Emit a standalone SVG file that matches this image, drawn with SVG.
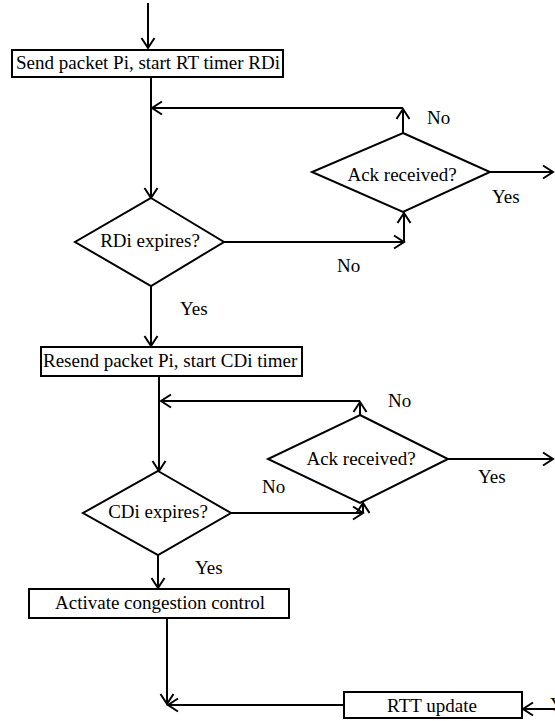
<svg xmlns="http://www.w3.org/2000/svg" width="555" height="721" viewBox="0 0 555 721" font-family="Liberation Serif, DejaVu Serif, serif">
<style>
text{font-size:19px;fill:#000}
.c{text-anchor:middle}
.s{fill:#fff;stroke:#000;stroke-width:2}
.l{fill:none;stroke:#000;stroke-width:2;marker-end:url(#a)}
</style>
<defs>
<marker id="a" markerUnits="userSpaceOnUse" markerWidth="14" markerHeight="16" viewBox="0 -8 14 16" refX="11" refY="0" orient="auto">
<path d="M1,-6.5 L11,0 L1,6.5" fill="none" stroke="#000" stroke-width="2"/>
</marker>
</defs>
<rect width="555" height="721" fill="#fff"/>
<g id="connectors">
<line class="l" x1="148" y1="3" x2="148" y2="48"/>
<line class="l" x1="151" y1="77" x2="151" y2="198"/>
<line class="l" x1="403" y1="133" x2="403" y2="109"/>
<line class="l" x1="403" y1="108" x2="152" y2="108"/>
<line class="l" x1="490" y1="172" x2="553" y2="172"/>
<line class="l" x1="224" y1="242" x2="404" y2="242"/>
<line class="l" x1="404" y1="242" x2="404" y2="213"/>
<line class="l" x1="151" y1="286" x2="151" y2="346"/>
<line class="l" x1="159" y1="376" x2="159" y2="471"/>
<line class="l" x1="360" y1="415" x2="360" y2="402"/>
<line class="l" x1="360" y1="401" x2="161" y2="401"/>
<line class="l" x1="448" y1="459" x2="553" y2="459"/>
<line class="l" x1="231" y1="513" x2="363" y2="513"/>
<line class="l" x1="363" y1="513" x2="363" y2="503"/>
<line class="l" x1="158" y1="555" x2="158" y2="588"/>
<line class="l" x1="167" y1="618" x2="167" y2="704"/>
<line class="l" x1="344" y1="705" x2="168" y2="705"/>
<line class="l" x1="556" y1="709" x2="523" y2="709"/>
</g>
<g id="send">
<rect class="s" x="12" y="50" width="271" height="27"/>
<text class="c" x="148" y="69">Send packet Pi, start RT timer RDi</text>
</g>
<g id="ack1">
<polygon class="s" points="403,133 490,172 403,212 312,172"/>
<text class="c" x="402" y="181">Ack received?</text>
</g>
<g id="rdi">
<polygon class="s" points="151,198 224,242 151,286 75,242"/>
<text class="c" x="150" y="247">RDi expires?</text>
</g>
<g id="resend">
<rect class="s" x="41" y="347" width="261" height="29"/>
<text x="43" y="367">Resend packet Pi, start CDi timer</text>
</g>
<g id="ack2">
<polygon class="s" points="360,415 448,459 360,503 268,459"/>
<text class="c" x="361" y="465">Ack received?</text>
</g>
<g id="cdi">
<polygon class="s" points="158,471 231,513 158,555 83,513"/>
<text class="c" x="158" y="518">CDi expires?</text>
</g>
<g id="congestion">
<rect class="s" x="29" y="589" width="260" height="29"/>
<text class="c" x="160" y="609">Activate congestion control</text>
</g>
<g id="rtt">
<rect class="s" x="344" y="692" width="178" height="26"/>
<text class="c" x="432" y="712">RTT update</text>
</g>
<g id="labels">
<text x="427" y="124">No</text>
<text x="492" y="203">Yes</text>
<text x="337" y="272">No</text>
<text x="180" y="315">Yes</text>
<text x="388" y="407">No</text>
<text x="478" y="483">Yes</text>
<text x="262" y="493">No</text>
<text x="195" y="574">Yes</text>
<text x="550" y="711">Yes</text>
</g>
</svg>
